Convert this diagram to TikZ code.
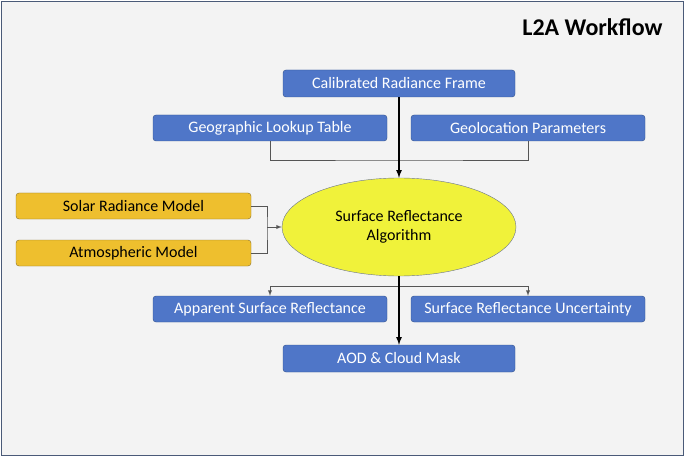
\documentclass[tikz,border=0pt]{standalone}
\usepackage{fontspec}
\setmainfont{Carlito}
\definecolor{bgpanel}{HTML}{F3F3F3}
\definecolor{framecol}{HTML}{4A5A78}
\definecolor{boxblue}{HTML}{4F76C8}
\definecolor{boxblueline}{HTML}{2F4F8A}
\definecolor{boxgold}{HTML}{EEBF2E}
\definecolor{boxgoldline}{HTML}{8A7028}
\definecolor{ellyellow}{HTML}{F0F23A}
\definecolor{ellline}{HTML}{6A7490}
\definecolor{linkgray}{HTML}{555555}
\usetikzlibrary{shapes.geometric}

\begin{document}
\begin{tikzpicture}[x=1pt,y=-1pt,>=latex,
    bluebox/.style={draw=boxblueline,fill=boxblue,rounded corners=3pt,
      text=white,font=\fontsize{16}{18}\selectfont,
      minimum width=234pt,minimum height=26pt,inner sep=0pt},
    goldbox/.style={draw=boxgoldline,fill=boxgold,rounded corners=3pt,
      text=black,font=\fontsize{16}{18}\selectfont,
      minimum width=235pt,minimum height=26pt,inner sep=0pt},
    link/.style={draw=linkgray,line width=0.9pt},
    mainlink/.style={draw=black,line width=1.6pt}]
      \useasboundingbox (0,0) rectangle (685,457) ;
      \draw[draw=framecol,fill=bgpanel,line width=1.2pt] (1.5,1.5) rectangle (683.5,455.5) ;
      \node[anchor=east,font=\fontsize{24}{28}\selectfont\bfseries] %
      (title) at (666,27) {L2A Workflow} ;
      % inputs
      \node[bluebox,minimum width=232pt,minimum height=27pt] (cal) at (399,83.5) {Calibrated Radiance Frame} ;
      \node[bluebox] (geo) at (270,128) {Geographic Lookup Table} ;
      \node[bluebox] (gpar) at (528,128) {Geolocation Parameters} ;
      \node[goldbox] (solar) at (133.5,206) {Solar Radiance Model} ;
      \node[goldbox] (atmo) at (133.5,253) {Atmospheric Model} ;
      % algorithm
      \node[ellipse,draw=ellline,fill=ellyellow,minimum width=234pt,minimum height=98pt,inner sep=0pt,
        align=center,font=\fontsize{16}{19}\selectfont] %
      (alg) at (399,227) {Surface Reflectance\\Algorithm} ;
      % outputs
      \node[bluebox] (asr) at (270,309) {Apparent Surface Reflectance} ;
      \node[bluebox] (sru) at (528,309) {Surface Reflectance Uncertainty} ;
      \node[bluebox,minimum width=232pt,minimum height=27pt] (aod) at (399,358.5) {AOD \& Cloud Mask} ;
      % connectors
      \coordinate (jtop) at (399,160) ;
      \coordinate (jleft) at (267,227) ;
      \coordinate (jbot) at (399,286) ;
      \draw[link] (geo) |- (jtop) -| (gpar) ;
      \draw[link] (solar) -| (jleft) |- (atmo) ;
      \draw[link,->] (jleft) -- (alg) ;
      \draw[link,->] (jbot) -| (asr) ;
      \draw[link,->] (jbot) -| (sru) ;
      \draw[mainlink,->] (cal) -- (alg) ;
      \draw[mainlink,->] (alg) -- (aod) ;
    \end{tikzpicture}
\end{document}
